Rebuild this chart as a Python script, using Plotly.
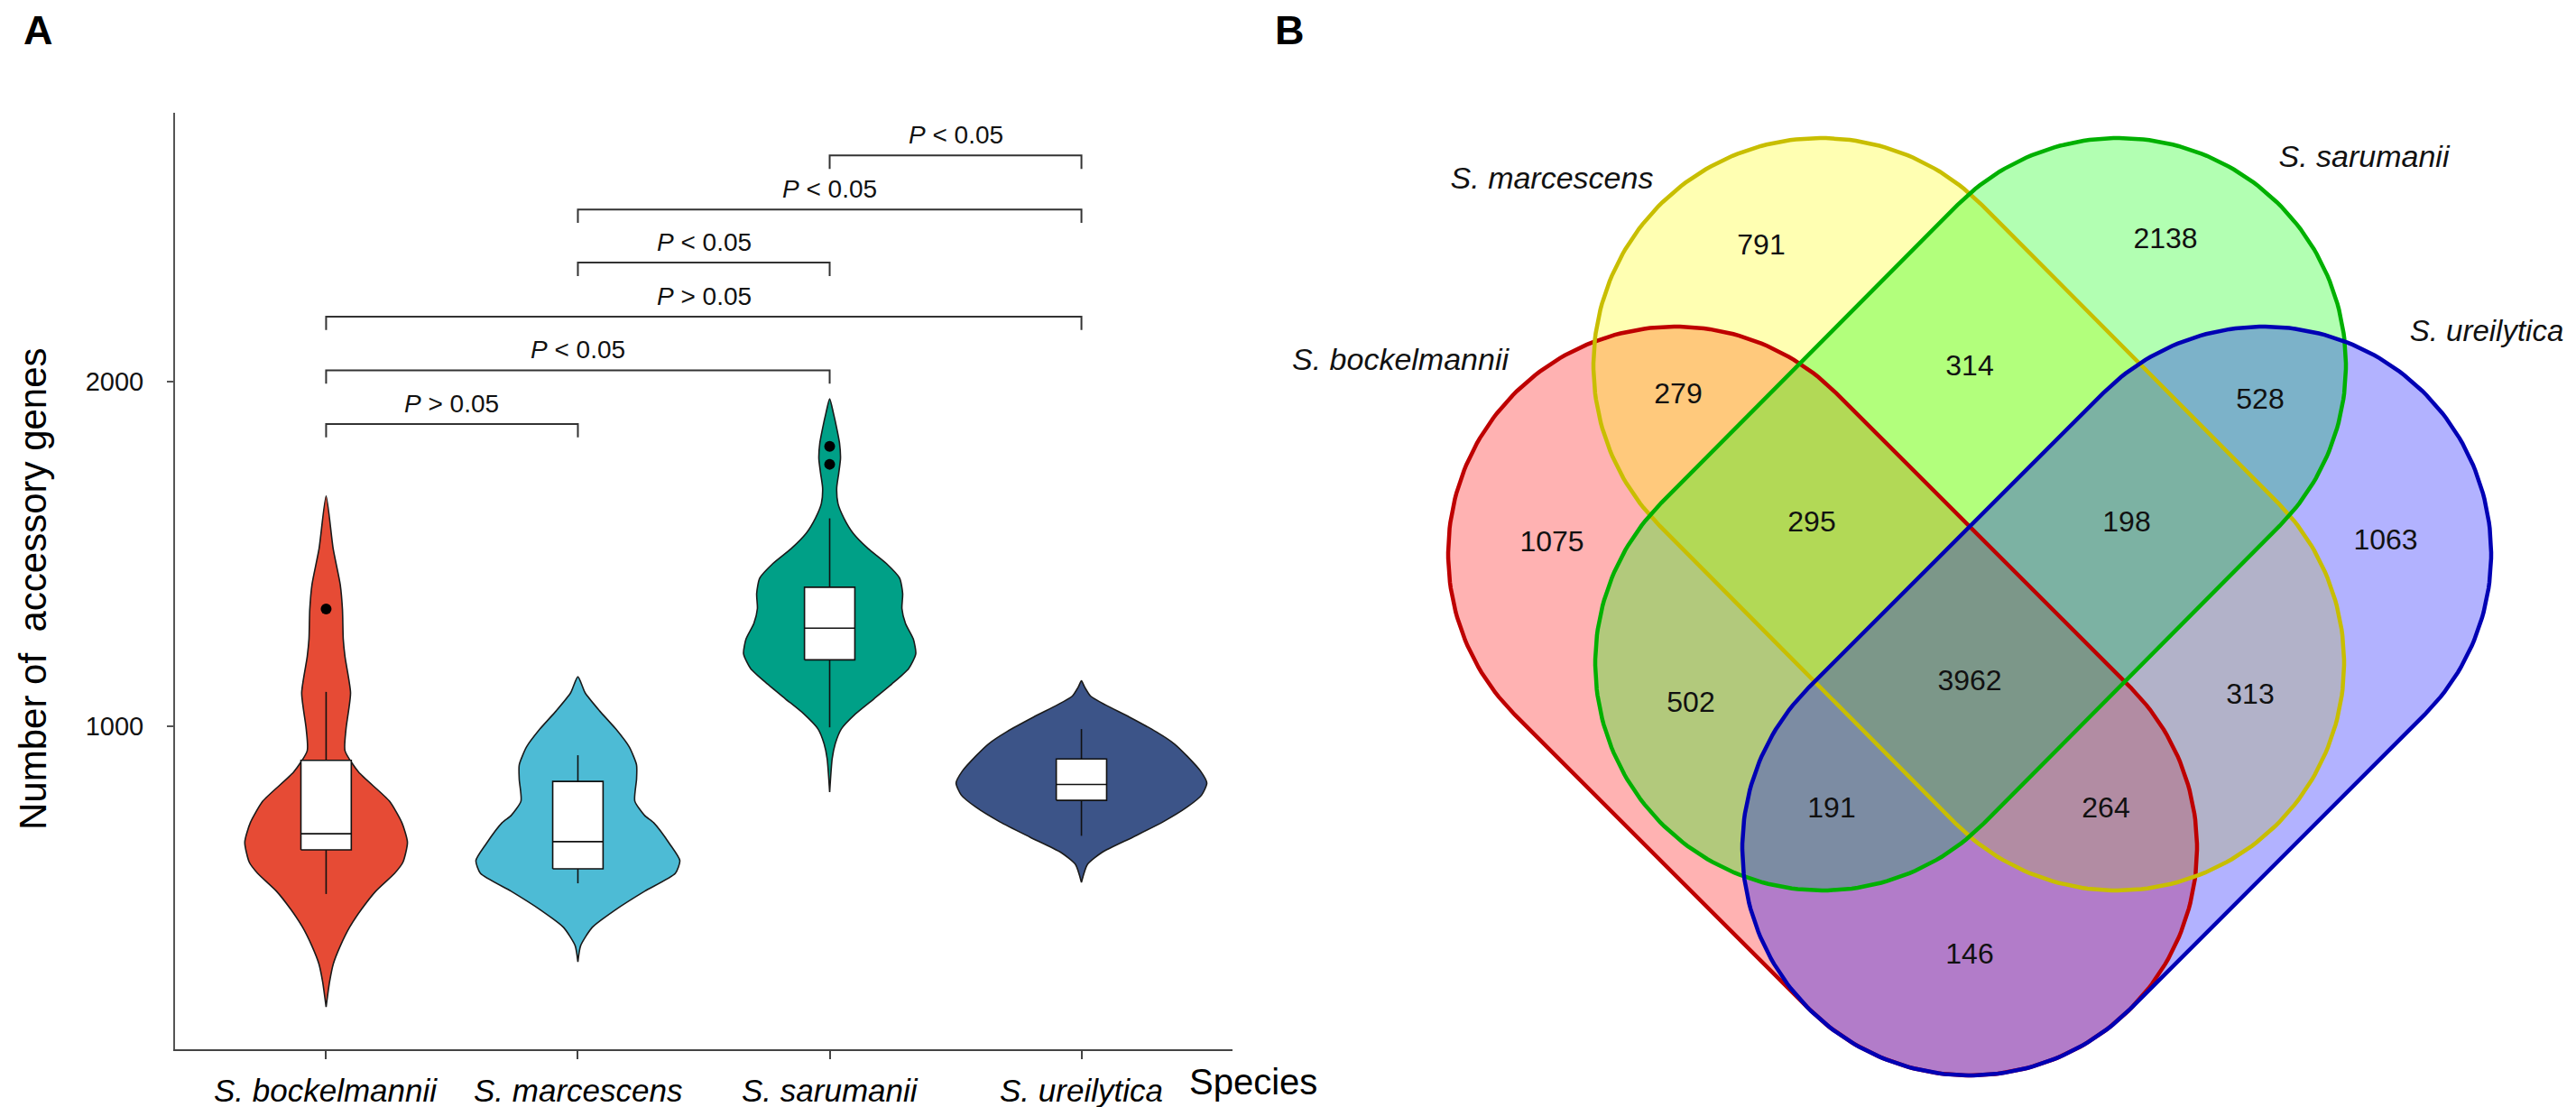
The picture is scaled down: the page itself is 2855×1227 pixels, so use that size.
import numpy as np
import plotly.graph_objects as go

# ---------------- Panel A data ----------------
species = ["S. bockelmannii", "S. marcescens", "S. sarumanii", "S. ureilytica"]
violin_colors = ["#E64B35", "#4DBBD5", "#00A087", "#3C5488"]

# violin outlines: value -> half width (category units)
bock_vals = [1668, 1515, 1411, 1337, 1253, 1201, 1096, 991, 928, 866, 782, 719, 662, 604, 572, 520, 467, 415, 362, 310, 258, 184]
bock_w = [0, 0.028, 0.056, 0.065, 0.068, 0.075, 0.097, 0.079, 0.075, 0.129, 0.251, 0.301, 0.323, 0.305, 0.272, 0.197, 0.140, 0.093, 0.057, 0.029, 0.014, 0]
marc_vals = [1143, 1096, 1044, 991, 939, 887, 845, 782, 740, 719, 656, 609, 572, 520, 467, 415, 362, 315]
marc_w = [0, 0.029, 0.086, 0.151, 0.204, 0.233, 0.233, 0.226, 0.265, 0.301, 0.366, 0.405, 0.387, 0.265, 0.151, 0.057, 0.011, 0]
saru_vals = [1950, 1908, 1865, 1822, 1777, 1734, 1691, 1646, 1603, 1560, 1515, 1472, 1429, 1384, 1341, 1298, 1253, 1210, 1167, 1122, 1079, 1036, 991, 948, 905, 808]
saru_w = [0, 0.015, 0.028, 0.039, 0.043, 0.036, 0.028, 0.033, 0.057, 0.093, 0.153, 0.225, 0.278, 0.290, 0.287, 0.301, 0.332, 0.342, 0.314, 0.247, 0.176, 0.104, 0.046, 0.022, 0.010, 0]
ureo_vals = [1131, 1114, 1087, 1061, 1026, 983, 948, 913, 869, 834, 799, 764, 721, 677, 633, 598, 546]
ureo_w = [0, 0.012, 0.036, 0.096, 0.190, 0.297, 0.369, 0.419, 0.473, 0.498, 0.477, 0.419, 0.323, 0.204, 0.082, 0.024, 0]

# box statistics
box_q1 = [640, 585, 1192, 784]
box_median = [687, 664, 1284, 830]
box_q3 = [900, 839, 1403, 904]
box_low = [512, 543, 996, 681]
box_high = [1099, 915, 1603, 991]
outlier_x = [1, 3, 3]
outlier_y = [1340, 1812, 1760]

# significance brackets
bracket_pairs = [(1, 2), (1, 3), (1, 4), (2, 3), (2, 4), (3, 4)]
bracket_y = [1877, 2033, 2189, 2346, 2500, 2657]
bracket_labels = ["P > 0.05", "P < 0.05", "P > 0.05", "P < 0.05", "P < 0.05", "P < 0.05"]

y_ticks = [1000, 2000]

# ---------------- Panel B data ----------------
venn_sets = ["S. bockelmannii", "S. marcescens", "S. sarumanii", "S. ureilytica"]
venn_counts = [1075, 791, 2138, 1063, 279, 314, 528, 295, 198, 502, 3962, 313, 191, 264, 146]

# ---------------- styles / geometry ----------------
W, H = 2855, 1227
FONT = "Liberation Sans, Arial, sans-serif"

venn_fill = ["rgba(255,0,0,0.3)", "rgba(255,255,0,0.3)", "rgba(0,255,0,0.3)", "rgba(0,0,255,0.3)"]
venn_line = ["#BE0000", "#C8BE00", "#00B000", "#0000B4"]
# capsule geometry in pixel space: end-circle centre 1, end-circle centre 2, radius
caps_geom = [((1849, 606), (2175, 932), 252),
             ((2010, 397), (2338, 727), 252),
             ((2340, 397), (2012, 727), 252),
             ((2501, 606), (2175, 932), 252)]
count_pos = [(1712, 595), (1944, 266), (2392, 259), (2636, 593), (1852, 431), (2175, 400), (2497, 437),
             (2000, 573), (2349, 573), (1866, 773), (2175, 749), (2486, 764), (2022, 890), (2326, 890), (2175, 1052)]
set_label_pos = [(1544, 393), (1712, 192), (2612, 168), (2748, 362)]
set_label_size = [34, 34, 34, 33]

fig = go.Figure()

# violins
all_vals = [bock_vals, marc_vals, saru_vals, ureo_vals]
all_w = [bock_w, marc_w, saru_w, ureo_w]
for i in range(4):
    c = i + 1
    v = np.array(all_vals[i], dtype=float)
    w = np.array(all_w[i], dtype=float)
    xs = np.concatenate([c + w, (c - w)[::-1]])
    ys = np.concatenate([v, v[::-1]])
    fig.add_trace(go.Scatter(x=xs, y=ys, mode="lines", fill="toself", fillcolor=violin_colors[i],
                             line=dict(color="#1a1a1a", width=1.6, shape="spline", smoothing=0.6),
                             hoverinfo="skip", showlegend=False, xaxis="x", yaxis="y"))

# boxes (whiskers, white box, median)
half_box = 0.1
wx, wy = [], []
for i in range(4):
    c = i + 1
    wx += [c, c, None, c, c, None]
    wy += [box_q3[i], box_high[i], None, box_q1[i], box_low[i], None]
fig.add_trace(go.Scatter(x=wx, y=wy, mode="lines", line=dict(color="#111111", width=1.6),
                         showlegend=False, hoverinfo="skip"))
for i in range(4):
    c = i + 1
    fig.add_trace(go.Scatter(x=[c - half_box, c + half_box, c + half_box, c - half_box, c - half_box],
                             y=[box_q1[i], box_q1[i], box_q3[i], box_q3[i], box_q1[i]],
                             mode="lines", fill="toself", fillcolor="white",
                             line=dict(color="#111111", width=1.6), showlegend=False, hoverinfo="skip"))
    fig.add_trace(go.Scatter(x=[c - half_box, c + half_box], y=[box_median[i], box_median[i]],
                             mode="lines", line=dict(color="#111111", width=1.6),
                             showlegend=False, hoverinfo="skip"))

fig.add_trace(go.Scatter(x=outlier_x, y=outlier_y, mode="markers",
                         marker=dict(color="black", size=12), showlegend=False, hoverinfo="skip"))

# brackets
bx, by = [], []
drop = 39
for (a, b), yv in zip(bracket_pairs, bracket_y):
    bx += [a, a, b, b, None]
    by += [yv - drop, yv, yv, yv - drop, None]
fig.add_trace(go.Scatter(x=bx, y=by, mode="lines", line=dict(color="#333333", width=2),
                         showlegend=False, hoverinfo="skip"))

annotations = []
for (a, b), yv, lab in zip(bracket_pairs, bracket_y, bracket_labels):
    op = "&lt;" if "<" in lab else "&gt;"
    txt = "<i>P</i> " + op + " " + lab.split()[-1]
    annotations.append(dict(x=(a + b) / 2, y=yv + 60, xref="x", yref="y", text=txt, showarrow=False,
                            font=dict(family=FONT, size=28, color="#111111"), xanchor="center", yanchor="middle"))

# x tick labels
for i, sp in enumerate(species):
    annotations.append(dict(x=i + 1, y=1 - 1200 / H, xref="x", yref="paper", text="<i>" + sp + "</i>",
                            showarrow=False, font=dict(family=FONT, size=35, color="black"),
                            xanchor="center", yanchor="middle"))

# venn capsules
shapes_xy = []
for (p1, p2, r) in caps_geom:
    p1 = np.array(p1, float)
    p2 = np.array(p2, float)
    d = p2 - p1
    al = np.arctan2(d[1], d[0])
    t2 = np.linspace(al - np.pi / 2, al + np.pi / 2, 120)
    t1 = np.linspace(al + np.pi / 2, al + 3 * np.pi / 2, 120)
    ex = np.concatenate([p2[0] + r * np.cos(t2), p1[0] + r * np.cos(t1), [p2[0] + r * np.cos(t2[0])]])
    ey = np.concatenate([p2[1] + r * np.sin(t2), p1[1] + r * np.sin(t1), [p2[1] + r * np.sin(t2[0])]])
    shapes_xy.append((ex, ey))
for i, (ex, ey) in enumerate(shapes_xy):
    fig.add_trace(go.Scatter(x=ex, y=ey, mode="lines", fill="toself", fillcolor=venn_fill[i],
                             line=dict(width=0), showlegend=False, hoverinfo="skip", xaxis="x2", yaxis="y2"))
for i, (ex, ey) in enumerate(shapes_xy):
    fig.add_trace(go.Scatter(x=ex, y=ey, mode="lines", line=dict(color=venn_line[i], width=4.5),
                             showlegend=False, hoverinfo="skip", xaxis="x2", yaxis="y2"))

fig.add_trace(go.Scatter(x=[p[0] for p in count_pos], y=[p[1] for p in count_pos], mode="text",
                         text=[str(v) for v in venn_counts], textposition="middle center",
                         textfont=dict(family=FONT, size=32, color="#111111"),
                         showlegend=False, hoverinfo="skip", xaxis="x2", yaxis="y2"))
fig.add_trace(go.Scatter(x=[p[0] for p in set_label_pos], y=[p[1] for p in set_label_pos], mode="text",
                         text=venn_sets, textposition="middle center",
                         textfont=dict(family=FONT, size=set_label_size, color="#111111", style="italic"),
                         showlegend=False, hoverinfo="skip", xaxis="x2", yaxis="y2", cliponaxis=False))

annotations += [
    dict(x=34 / W, y=1 - 25 / H, xref="paper", yref="paper", text="<b>A</b>", showarrow=False,
         font=dict(family=FONT, size=45, color="black"), xanchor="center", yanchor="middle"),
    dict(x=1421 / W, y=1 - 26 / H, xref="paper", yref="paper", text="<b>B</b>", showarrow=False,
         font=dict(family=FONT, size=45, color="black"), xanchor="center", yanchor="middle"),
    dict(x=28 / W, y=1 - 645 / H, xref="paper", yref="paper", text="Number of\u00a0 accessory genes",
         textangle=-90, showarrow=False, font=dict(family=FONT, size=42, color="black"),
         xanchor="center", yanchor="middle"),
    dict(x=1381 / W, y=1 - 1191 / H, xref="paper", yref="paper", text="Species", showarrow=False,
         font=dict(family=FONT, size=40, color="black"), xanchor="center", yanchor="middle"),
]

fig.update_layout(
    width=W, height=H, margin=dict(l=0, r=0, t=0, b=0),
    paper_bgcolor="white", plot_bgcolor="white", showlegend=False,
    xaxis=dict(domain=[186 / W, 1358 / W], range=[0.4, 4.6], tickvals=[1, 2, 3, 4], showticklabels=False,
               showline=True, linecolor="#444444", linewidth=2, ticks="outside", ticklen=9, tickwidth=2,
               tickcolor="#444444", showgrid=False, zeroline=False, anchor="y"),
    yaxis=dict(domain=[(H - 1155) / H, (H - 117) / H], range=[61, 2781], tickvals=y_ticks,
               tickfont=dict(family=FONT, size=29, color="#111111"),
               showline=True, linecolor="#555555", linewidth=2, ticks="outside", ticklen=7, tickwidth=2,
               tickcolor="#555555", showgrid=False, zeroline=False, anchor="x", ticklabelstandoff=20),
    xaxis2=dict(domain=[0.5, 1], range=[W * 0.5, W], visible=False, anchor="y2"),
    yaxis2=dict(domain=[0, 1], range=[H, 0], visible=False, anchor="x2"),
    annotations=annotations,
)

fig.write_html("out.html")
